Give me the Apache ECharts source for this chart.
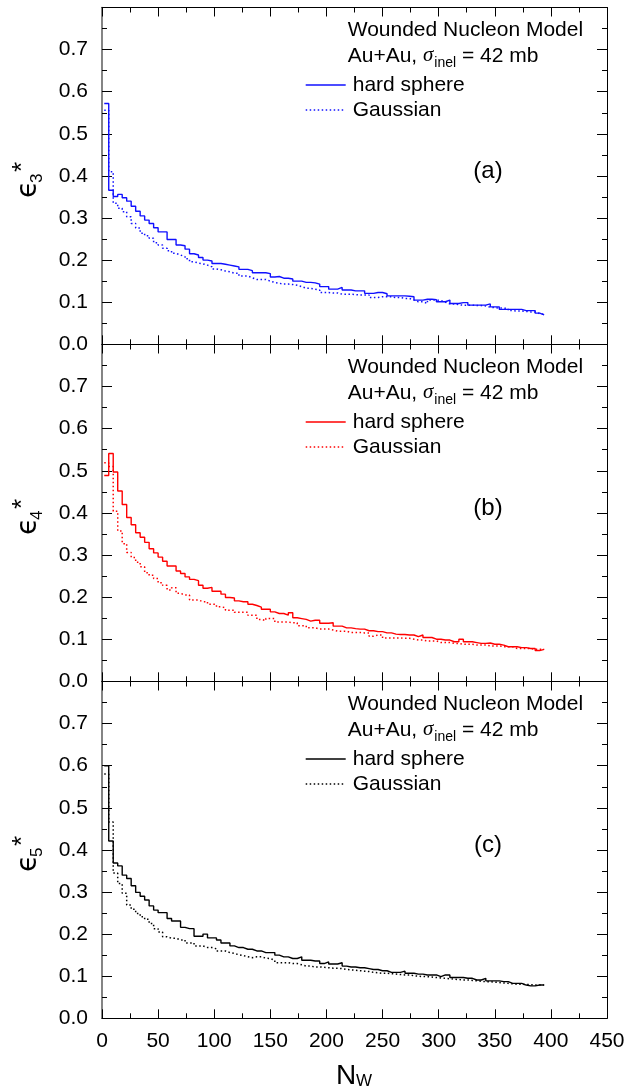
<!DOCTYPE html>
<html>
<head>
<meta charset="utf-8">
<script src="https://cdn.jsdelivr.net/npm/echarts@6/dist/echarts.min.js"></script>
<style>
html,body{margin:0;padding:0;background:#fff;}
#chart{width:628px;height:1090px;}
</style>
</head>
<body>
<div id="chart"></div>
<script>
// Histogram bins: N_W bins of width 4 starting at 2
const binStart = 2;
const binWidth = 4;
const xTicks = [0, 50, 100, 150, 200, 250, 300, 350, 400, 450];
const yTicks = [0.0, 0.1, 0.2, 0.3, 0.4, 0.5, 0.6, 0.7];

// Panel (a): epsilon_3*
const hardA = [
0.572, 0.366, 0.351, 0.356, 0.348, 0.340, 0.328, 0.316, 0.305, 0.295,
0.287, 0.277, 0.267, 0.267, 0.249, 0.249, 0.236, 0.234, 0.226, 0.215,
0.212, 0.206, 0.200, 0.198, 0.192, 0.192, 0.190, 0.188, 0.186, 0.184,
0.178, 0.178, 0.175, 0.170, 0.170, 0.170, 0.168, 0.160, 0.161, 0.157,
0.157, 0.155, 0.150, 0.150, 0.147, 0.147, 0.146, 0.143, 0.137, 0.137,
0.131, 0.131, 0.135, 0.129, 0.129, 0.127, 0.127, 0.127, 0.121, 0.121,
0.123, 0.123, 0.120, 0.115, 0.115, 0.115, 0.115, 0.114, 0.113, 0.105,
0.105, 0.107, 0.107, 0.106, 0.101, 0.101, 0.105, 0.097, 0.097, 0.099,
0.099, 0.093, 0.093, 0.093, 0.093, 0.096, 0.089, 0.089, 0.083, 0.083,
0.083, 0.083, 0.083, 0.080, 0.080, 0.080, 0.074, 0.070];
const gaussA = [
0.556, 0.410, 0.335, 0.323, 0.315, 0.303, 0.287, 0.276, 0.264, 0.258,
0.252, 0.241, 0.236, 0.228, 0.222, 0.216, 0.212, 0.208, 0.203, 0.196,
0.193, 0.191, 0.188, 0.184, 0.179, 0.177, 0.174, 0.172, 0.169, 0.169,
0.162, 0.162, 0.158, 0.154, 0.154, 0.154, 0.150, 0.147, 0.145, 0.143,
0.143, 0.142, 0.140, 0.137, 0.133, 0.133, 0.131, 0.129, 0.123, 0.123,
0.122, 0.122, 0.119, 0.119, 0.119, 0.118, 0.117, 0.117, 0.117, 0.111,
0.111, 0.113, 0.113, 0.113, 0.111, 0.111, 0.109, 0.109, 0.105, 0.101,
0.101, 0.097, 0.105, 0.105, 0.104, 0.100, 0.096, 0.096, 0.094, 0.093,
0.093, 0.093, 0.092, 0.092, 0.091, 0.088, 0.087, 0.086, 0.086, 0.085,
0.080, 0.079, 0.079, 0.078, 0.077, 0.077, 0.073, 0.071];

// Panel (b): epsilon_4*
const hardB = [
0.489, 0.541, 0.497, 0.452, 0.420, 0.389, 0.372, 0.353, 0.342, 0.330,
0.315, 0.305, 0.295, 0.285, 0.274, 0.274, 0.262, 0.256, 0.248, 0.242,
0.239, 0.228, 0.221, 0.223, 0.214, 0.214, 0.207, 0.199, 0.198, 0.191,
0.189, 0.189, 0.183, 0.180, 0.176, 0.171, 0.171, 0.165, 0.161, 0.161,
0.157, 0.163, 0.151, 0.149, 0.147, 0.143, 0.145, 0.145, 0.138, 0.138,
0.139, 0.131, 0.131, 0.127, 0.127, 0.125, 0.124, 0.124, 0.120, 0.120,
0.118, 0.118, 0.115, 0.115, 0.112, 0.111, 0.111, 0.110, 0.110, 0.106,
0.110, 0.104, 0.104, 0.100, 0.100, 0.098, 0.098, 0.094, 0.094, 0.100,
0.094, 0.094, 0.092, 0.090, 0.090, 0.091, 0.088, 0.088, 0.086, 0.082,
0.082, 0.082, 0.080, 0.080, 0.078, 0.078, 0.073, 0.076];
const gaussB = [
0.519, 0.510, 0.404, 0.357, 0.327, 0.306, 0.294, 0.283, 0.272, 0.258,
0.252, 0.244, 0.234, 0.228, 0.217, 0.222, 0.209, 0.205, 0.205, 0.193,
0.193, 0.189, 0.189, 0.183, 0.183, 0.177, 0.175, 0.169, 0.169, 0.164,
0.164, 0.164, 0.157, 0.157, 0.147, 0.144, 0.149, 0.149, 0.141, 0.141,
0.141, 0.139, 0.139, 0.132, 0.132, 0.127, 0.127, 0.124, 0.124, 0.124,
0.122, 0.119, 0.119, 0.119, 0.116, 0.116, 0.116, 0.115, 0.115, 0.107,
0.110, 0.110, 0.103, 0.103, 0.103, 0.103, 0.102, 0.102, 0.100, 0.098,
0.098, 0.096, 0.096, 0.096, 0.092, 0.092, 0.092, 0.090, 0.090, 0.088,
0.088, 0.088, 0.086, 0.086, 0.086, 0.084, 0.084, 0.084, 0.082, 0.082,
0.082, 0.078, 0.078, 0.078, 0.078, 0.076, 0.076, 0.076];

// Panel (c): epsilon_5*
const hardC = [
0.600, 0.421, 0.369, 0.362, 0.340, 0.332, 0.315, 0.299, 0.290, 0.281,
0.267, 0.257, 0.251, 0.251, 0.237, 0.231, 0.231, 0.216, 0.213, 0.213,
0.195, 0.195, 0.200, 0.191, 0.191, 0.186, 0.179, 0.179, 0.172, 0.168,
0.168, 0.164, 0.164, 0.160, 0.160, 0.156, 0.156, 0.156, 0.150, 0.146,
0.146, 0.142, 0.142, 0.146, 0.138, 0.138, 0.136, 0.136, 0.130, 0.134,
0.129, 0.129, 0.132, 0.124, 0.122, 0.122, 0.120, 0.120, 0.118, 0.116,
0.116, 0.113, 0.113, 0.109, 0.109, 0.109, 0.112, 0.107, 0.107, 0.105,
0.105, 0.103, 0.103, 0.103, 0.099, 0.103, 0.103, 0.097, 0.097, 0.097,
0.095, 0.095, 0.091, 0.091, 0.095, 0.089, 0.089, 0.089, 0.087, 0.087,
0.083, 0.083, 0.083, 0.079, 0.077, 0.077, 0.079, 0.079];
const gaussC = [
0.580, 0.466, 0.345, 0.320, 0.297, 0.269, 0.259, 0.249, 0.241, 0.235,
0.225, 0.213, 0.205, 0.194, 0.190, 0.190, 0.186, 0.186, 0.179, 0.179,
0.172, 0.172, 0.168, 0.168, 0.165, 0.160, 0.160, 0.156, 0.154, 0.151,
0.149, 0.146, 0.144, 0.146, 0.146, 0.143, 0.142, 0.138, 0.132, 0.132,
0.132, 0.130, 0.130, 0.127, 0.124, 0.124, 0.122, 0.122, 0.121, 0.120,
0.119, 0.119, 0.118, 0.116, 0.115, 0.114, 0.113, 0.112, 0.111, 0.109,
0.108, 0.107, 0.107, 0.106, 0.105, 0.104, 0.103, 0.103, 0.101, 0.100,
0.099, 0.099, 0.098, 0.097, 0.096, 0.095, 0.094, 0.093, 0.092, 0.091,
0.091, 0.090, 0.089, 0.088, 0.087, 0.087, 0.086, 0.085, 0.084, 0.083,
0.082, 0.081, 0.081, 0.080, 0.080, 0.079, 0.079, 0.079];

const panelLabels = ['(a)', '(b)', '(c)'];
const harmonics = ['3', '4', '5'];
const legendNames = ['hard sphere', 'Gaussian'];
const modelText = 'Wounded Nucleon Model';

const panels = [
  {hard: hardA, gauss: gaussA, color: '#1010ff'},
  {hard: hardB, gauss: gaussB, color: '#ff0000'},
  {hard: hardC, gauss: gaussC, color: '#000000'}
];

const FONT = '"Liberation Sans", Arial, Helvetica, sans-serif';
const gridLeft = 102, gridWidth = 505, gridH = 336.8;
const gridTops = [7.5, 344.5, 681.5];

function toSteps(vals) {
  const pts = vals.map((v, k) => [binStart + k * binWidth, v]);
  pts.push([binStart + vals.length * binWidth, vals[vals.length - 1]]);
  return pts;
}

const grid = [], xAxis = [], yAxis = [], series = [], legend = [], graphic = [];

panels.forEach((p, i) => {
  const top = gridTops[i];
  const dy = top - gridTops[0];
  grid.push({left: gridLeft, top: top, width: gridWidth, height: gridH, containLabel: false});
  const xBase = {
    type: 'value', gridIndex: i, min: xTicks[0], max: xTicks[xTicks.length - 1],
    interval: xTicks[1] - xTicks[0],
    splitLine: {show: false}, minorSplitLine: {show: false},
    axisLine: {show: true, onZero: false, lineStyle: {color: '#000', width: 1}},
    axisTick: {show: true, inside: true, length: 9, lineStyle: {color: '#000', width: 1}},
    minorTick: {show: true, splitNumber: 2, length: 5, lineStyle: {color: '#000', width: 1}}
  };
  xAxis.push(Object.assign({}, xBase, {
    position: 'bottom',
    axisLabel: {show: i === 2, fontSize: 21, color: '#000', fontFamily: FONT, margin: 12,
      showMinLabel: true, showMaxLabel: true}
  }));
  xAxis.push(Object.assign({}, xBase, {position: 'top', axisLabel: {show: false}}));

  const yBase = {
    type: 'value', gridIndex: i, min: 0, max: 0.8, interval: 0.1,
    splitLine: {show: false}, minorSplitLine: {show: false},
    axisTick: {show: true, inside: true, length: 10, lineStyle: {color: '#000', width: 1}},
    minorTick: {show: true, splitNumber: 2, length: 5, lineStyle: {color: '#000', width: 1}}
  };
  yAxis.push(Object.assign({}, yBase, {
    position: 'left',
    axisLine: {show: true, onZero: false, lineStyle: {color: '#666', width: 1.6}},
    axisLabel: {show: true, fontSize: 21, color: '#000', fontFamily: FONT, margin: 14,
      formatter: v => {
        const idx = yTicks.findIndex(t => Math.abs(t - v) < 1e-6);
        return idx >= 0 ? yTicks[idx].toFixed(1) : '';
      }}
  }));
  yAxis.push(Object.assign({}, yBase, {
    position: 'right',
    axisLine: {show: true, onZero: false, lineStyle: {color: '#000', width: 1}},
    axisLabel: {show: false}
  }));

  const nameH = legendNames[0] + '|' + i;
  const nameG = legendNames[1] + '|' + i;
  series.push({
    type: 'line', name: nameG, xAxisIndex: 2 * i, yAxisIndex: 2 * i,
    data: toSteps(p.gauss), step: 'end', symbol: 'none', showSymbol: false,
    color: p.color, silent: true, animation: false,
    lineStyle: {color: p.color, width: 1.5, type: [1.5, 2.5]}
  });
  series.push({
    type: 'line', name: nameH, xAxisIndex: 2 * i, yAxisIndex: 2 * i,
    data: toSteps(p.hard), step: 'end', symbol: 'none', showSymbol: false,
    color: p.color, silent: true, animation: false,
    lineStyle: {color: p.color, width: 1.4, type: 'solid'}
  });

  legend.push({
    show: true, orient: 'vertical', left: 300, top: 69.5 + dy,
    itemWidth: 40, itemHeight: 14, itemGap: 4, selectedMode: false,
    data: [nameH, nameG],
    formatter: n => n.split('|')[0],
    itemStyle: {opacity: 0, color: 'rgba(0,0,0,0)', borderWidth: 0},
    lineStyle: {width: 1.4},
    textStyle: {fontSize: 21, color: '#000', fontFamily: FONT, lineHeight: 20, padding: [0, 0, 0, 2]}
  });

  graphic.push({
    type: 'text', x: 347.7, y: 30 + dy,
    style: {text: modelText, fontSize: 21, fontFamily: FONT, fill: '#000', align: 'left', verticalAlign: 'middle'}
  });
  graphic.push({
    type: 'text', x: 347.7, y: 45.3 + dy,
    style: {
      text: '{t|Au+Au, }{sig|σ}{sub|inel}{t| = 42 mb}',
      align: 'left', verticalAlign: 'top',
      rich: {
        t: {fontSize: 21, lineHeight: 21, fontFamily: FONT, fill: '#000', color: '#000', verticalAlign: 'top'},
        sig: {fontSize: 21, lineHeight: 21, fontFamily: '"Liberation Serif", "DejaVu Serif", serif', fontStyle: 'italic', fill: '#000', color: '#000', verticalAlign: 'top'},
        sub: {fontSize: 14, lineHeight: 14, fontFamily: FONT, fill: '#000', color: '#000', verticalAlign: 'top', padding: [11, 0, 0, 1]}
      }
    }
  });
  graphic.push({
    type: 'text', x: 488, y: 171.5 + dy,
    style: {text: panelLabels[i], fontSize: 24, fontFamily: FONT, fill: '#000', align: 'center', verticalAlign: 'middle'}
  });
  graphic.push({
    type: 'group', x: 30, y: top + 170.5, rotation: Math.PI / 2,
    children: [
      {type: 'text', x: -20, y: -1.5, style: {text: 'ϵ', fontSize: 28, fontFamily: '"DejaVu Sans", sans-serif', fill: '#000', align: 'left', verticalAlign: 'middle'}},
      {type: 'text', x: -5, y: 7.7, style: {text: harmonics[i], fontSize: 17, fontFamily: FONT, fill: '#000', align: 'left', verticalAlign: 'middle'}},
      {type: 'text', x: 6, y: -7.2, style: {text: '*', fontSize: 26, fontFamily: FONT, fill: '#000', align: 'left', verticalAlign: 'middle'}}
    ]
  });
});

graphic.push({
  type: 'text', x: 336, y: 1076.7,
  style: {text: 'N', fontSize: 28, fontFamily: FONT, fill: '#000', align: 'left', verticalAlign: 'middle'}
});
graphic.push({
  type: 'text', x: 356, y: 1081.7,
  style: {text: 'W', fontSize: 17, fontFamily: FONT, fill: '#000', align: 'left', verticalAlign: 'middle'}
});

const chart = echarts.init(document.getElementById('chart'), null, {renderer: 'canvas'});
chart.setOption({
  backgroundColor: '#fff',
  animation: false,
  grid, xAxis, yAxis, series, legend, graphic
});
</script>
</body>
</html>
